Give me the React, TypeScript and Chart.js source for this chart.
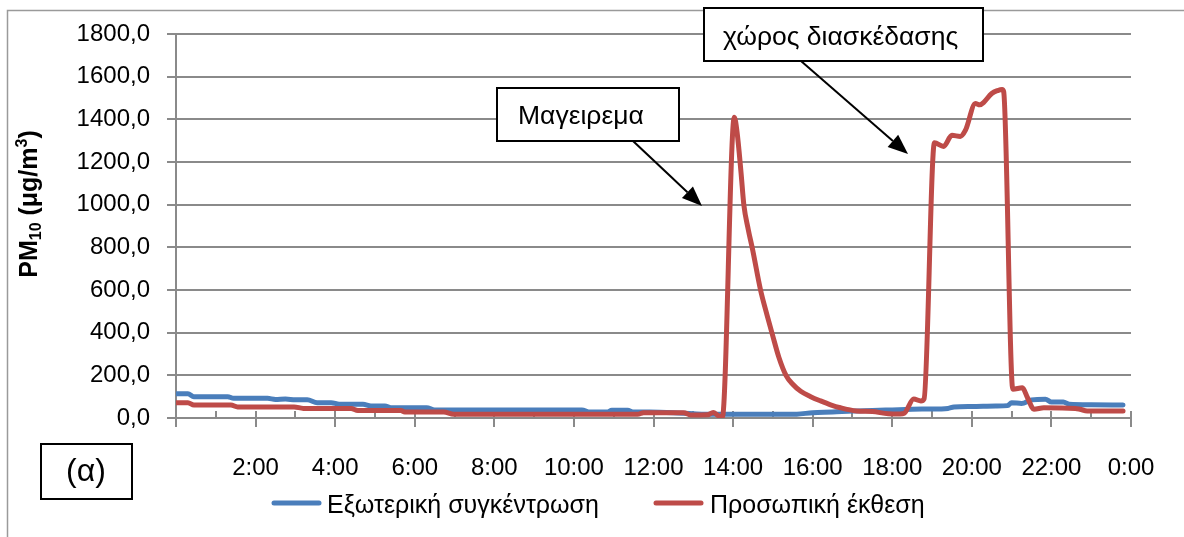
import { useEffect, useRef } from 'react';
import { Chart, registerables } from 'chart.js';

Chart.register(...registerables);

const FONT = '"Liberation Sans", Arial, Helvetica, sans-serif';

// ---- data (time in hours since midnight, PM10 in μg/m3) ----
const seriesNames = ['Εξωτερική συγκέντρωση', 'Προσωπική έκθεση'];
const seriesColors = ['#4a7ebb', '#be4b48'];

const blueTimes = [0, 0.3, 0.45, 1.3, 1.45, 2.3, 2.5, 2.75, 3.0, 3.3, 3.55, 3.9, 4.1, 4.7, 4.9, 5.25, 5.4, 6.3, 6.5, 8.0, 10.2, 10.4, 10.85, 10.95, 11.35, 11.5, 11.9, 12.5, 13.0, 13.5, 14.0, 15.0, 15.6, 16.0, 16.5, 17.0, 17.5, 18.0, 18.5, 18.9, 19.4, 19.55, 20.0, 20.6, 20.9, 21.0, 21.25, 21.5, 21.85, 22.0, 22.3, 22.45, 23.0, 23.8];
const blueValues = [114, 114, 100, 100, 92, 92, 87, 89, 85, 85, 72, 72, 64, 64, 56, 56, 48, 48, 38, 38, 38, 28, 28, 36, 36, 28, 28, 25, 20, 17, 17, 17, 18, 25, 28, 33, 35, 38, 41, 42, 45, 52, 54, 56, 58, 72, 68, 85, 88, 75, 75, 64, 62, 61];

const redTimes = [0, 0.3, 0.45, 1.38, 1.55, 2.97, 3.2, 4.4, 4.57, 5.65, 5.75, 6.73, 6.98, 11.6, 11.75, 12.76, 12.93, 13.36, 13.5, 13.62, 13.73, 14.03, 14.1, 14.2, 14.27, 14.38, 14.49, 14.69, 14.85, 14.99, 15.15, 15.33, 15.5, 15.7, 15.95, 16.2, 16.45, 16.7, 17.1, 17.5, 17.9, 18.2, 18.3, 18.54, 18.72, 18.8, 19.06, 19.29, 19.5, 19.71, 19.84, 20.09, 20.2, 20.3, 20.5, 20.65, 20.76, 20.8, 21.03, 21.27, 21.4, 21.56, 21.81, 22.6, 22.72, 22.9, 23.8];
const redValues = [72, 72, 61, 61, 52, 52, 45, 45, 35, 35, 28, 28, 17, 17, 25, 25, 14, 15, 26, 12, 3, 1410, 1340, 1150, 1000, 885, 790, 600, 485, 390, 285, 200, 158, 125, 100, 80, 62, 48, 33, 30, 20, 19, 22, 89, 80, 90, 1290, 1273, 1325, 1320, 1349, 1474, 1468, 1480, 1521, 1535, 1540, 1530, 135, 142, 95, 41, 48, 45, 41, 33, 33];

const yTickValues = [0, 200, 400, 600, 800, 1000, 1200, 1400, 1600, 1800];
const xTickHours = [0, 1, 2, 3, 4, 5, 6, 7, 8, 9, 10, 11, 12, 13, 14, 15, 16, 17, 18, 19, 20, 21, 22, 23, 24];
const xLabelText: Record<number, string> = { 2: '2:00', 4: '4:00', 6: '6:00', 8: '8:00', 10: '10:00', 12: '12:00', 14: '14:00', 16: '16:00', 18: '18:00', 20: '20:00', 22: '22:00', 24: '0:00' };

const calloutTexts = ['Μαγειρεμα', 'χώρος διασκέδασης'];
const panelLabel = '(α)';

function drawArrow(ctx: CanvasRenderingContext2D, x1: number, y1: number, x2: number, y2: number) {
  const ang = Math.atan2(y2 - y1, x2 - x1);
  const hl = 20;
  const hw = 8;
  const bx = x2 - hl * Math.cos(ang);
  const by = y2 - hl * Math.sin(ang);
  ctx.beginPath();
  ctx.moveTo(x1, y1);
  ctx.lineTo(bx, by);
  ctx.stroke();
  ctx.beginPath();
  ctx.moveTo(x2, y2);
  ctx.lineTo(bx + hw * Math.sin(ang), by - hw * Math.cos(ang));
  ctx.lineTo(bx - hw * Math.sin(ang), by + hw * Math.cos(ang));
  ctx.closePath();
  ctx.fill();
}

function drawCallout(ctx: CanvasRenderingContext2D, text: string, x: number, y: number, w: number, h: number, tx: number, ty: number) {
  ctx.fillStyle = '#ffffff';
  ctx.fillRect(x, y, w, h);
  ctx.strokeStyle = '#000000';
  ctx.lineWidth = 2;
  ctx.strokeRect(x, y, w, h);
  ctx.fillStyle = '#000000';
  ctx.font = `26.5px ${FONT}`;
  ctx.textAlign = 'left';
  ctx.textBaseline = 'alphabetic';
  ctx.fillText(text, tx, ty);
}

const decorPlugin = {
  id: 'decor',
  beforeDraw(chart: any) {
    const ctx: CanvasRenderingContext2D = chart.ctx;
    ctx.save();
    ctx.fillStyle = '#ffffff';
    ctx.fillRect(0, 0, chart.width, chart.height);
    ctx.strokeStyle = '#9a9a9a';
    ctx.lineWidth = 1.5;
    ctx.beginPath();
    ctx.moveTo(7.5, 560);
    ctx.lineTo(7.5, 10.5);
    ctx.lineTo(1200, 10.5);
    ctx.stroke();
    ctx.restore();
  },
  beforeDatasetsDraw(chart: any) {
    const ctx: CanvasRenderingContext2D = chart.ctx;
    const xs = chart.scales.x;
    const bottom = chart.chartArea.bottom;
    ctx.save();
    ctx.strokeStyle = '#8a8a8a';
    ctx.lineWidth = 2;
    xTickHours.forEach((h) => {
      const px = Math.round(xs.getPixelForValue(h));
      ctx.beginPath();
      if (h % 2 === 0) {
        ctx.moveTo(px, bottom - 7);
        ctx.lineTo(px, bottom + 9);
      } else {
        ctx.moveTo(px, bottom - 7);
        ctx.lineTo(px, bottom);
      }
      ctx.stroke();
    });
    ctx.restore();
  },
  afterDraw(chart: any) {
    const ctx: CanvasRenderingContext2D = chart.ctx;
    ctx.save();

    // Y axis title with sub/superscript
    ctx.translate(37, 204);
    ctx.rotate(-Math.PI / 2);
    const big = `bold 25px ${FONT}`;
    const small = `bold 16px ${FONT}`;
    const parts = [
      { t: 'PM', f: big, dy: 0 },
      { t: '10', f: small, dy: 4 },
      { t: ' (μg/m', f: big, dy: 0 },
      { t: '3', f: small, dy: -10 },
      { t: ')', f: big, dy: 0 },
    ];
    let total = 0;
    parts.forEach((p) => { ctx.font = p.f; total += ctx.measureText(p.t).width; });
    let cx = -total / 2;
    ctx.fillStyle = '#000000';
    ctx.textBaseline = 'alphabetic';
    ctx.textAlign = 'left';
    parts.forEach((p) => {
      ctx.font = p.f;
      ctx.fillText(p.t, cx, p.dy);
      cx += ctx.measureText(p.t).width;
    });
    ctx.setTransform(1, 0, 0, 1, 0, 0);

    // Legend
    ctx.lineWidth = 5;
    ctx.lineCap = 'round';
    const legendItems = [
      { lx: 274, rx: 319, tx: 327 },
      { lx: 656, rx: 701, tx: 710 },
    ];
    legendItems.forEach((it, i) => {
      ctx.strokeStyle = seriesColors[i];
      ctx.beginPath();
      ctx.moveTo(it.lx, 503);
      ctx.lineTo(it.rx, 503);
      ctx.stroke();
      ctx.fillStyle = '#000000';
      ctx.font = `25px ${FONT}`;
      ctx.textAlign = 'left';
      ctx.textBaseline = 'alphabetic';
      ctx.fillText(seriesNames[i], it.tx, 513);
    });
    ctx.lineCap = 'butt';

    // Panel label
    ctx.strokeStyle = '#000000';
    ctx.lineWidth = 2;
    ctx.strokeRect(41, 444, 91, 55);
    ctx.font = `32px ${FONT}`;
    ctx.textAlign = 'center';
    ctx.fillText(panelLabel, 86, 481);

    // Callouts with arrows
    ctx.strokeStyle = '#000000';
    ctx.fillStyle = '#000000';
    ctx.lineWidth = 2;
    drawArrow(ctx, 633, 141, 702, 206);
    drawArrow(ctx, 801, 61, 908, 154);
    drawCallout(ctx, calloutTexts[0], 497, 88, 182, 53, 518, 124);
    drawCallout(ctx, calloutTexts[1], 704, 8, 279, 53, 723, 45);

    ctx.restore();
  },
};

export default function App() {
  const canvasRef = useRef<HTMLCanvasElement | null>(null);

  useEffect(() => {
    if (!canvasRef.current) return;
    const chart = new Chart(canvasRef.current, {
      type: 'line',
      data: {
        datasets: [
          {
            label: seriesNames[0],
            data: blueTimes.map((t, i) => ({ x: t, y: blueValues[i] })),
            borderColor: seriesColors[0],
            backgroundColor: seriesColors[0],
            borderWidth: 5,
            pointRadius: 0,
            cubicInterpolationMode: 'monotone',
            borderJoinStyle: 'round',
            borderCapStyle: 'round',
            order: 1,
          },
          {
            label: seriesNames[1],
            data: redTimes.map((t, i) => ({ x: t, y: redValues[i] })),
            borderColor: seriesColors[1],
            backgroundColor: seriesColors[1],
            borderWidth: 5,
            pointRadius: 0,
            cubicInterpolationMode: 'monotone',
            borderJoinStyle: 'round',
            borderCapStyle: 'round',
            order: 0,
          },
        ],
      },
      options: {
        responsive: false,
        animation: false,
        devicePixelRatio: 1,
        layout: { padding: { left: 0, top: 34, right: 53, bottom: 0 } },
        plugins: {
          legend: { display: false },
          tooltip: { enabled: false },
        },
        scales: {
          x: {
            type: 'linear',
            min: 0,
            max: 24,
            afterFit: (s: any) => { s.height = 119; },
            afterBuildTicks: (s: any) => { s.ticks = xTickHours.map((v) => ({ value: v })); },
            grid: { display: false },
            border: { display: true, color: '#8a8a8a', width: 2 },
            ticks: {
              autoSkip: false,
              maxRotation: 0,
              padding: 28,
              color: '#000000',
              font: { family: FONT, size: 24 },
              callback: (v: any) => xLabelText[Number(v)] ?? '',
            },
          },
          y: {
            type: 'linear',
            min: 0,
            max: 1800,
            afterFit: (s: any) => { s.width = 176; },
            afterBuildTicks: (s: any) => { s.ticks = yTickValues.map((v) => ({ value: v })); },
            grid: { color: '#8a8a8a', lineWidth: 2, tickLength: 9, drawTicks: true },
            border: { display: true, color: '#8a8a8a', width: 2 },
            ticks: {
              padding: 17,
              color: '#000000',
              font: { family: FONT, size: 24 },
              callback: (v: any) => Number(v).toFixed(1).replace('.', ','),
            },
          },
        },
      },
      plugins: [decorPlugin],
    } as any);
    return () => chart.destroy();
  }, []);

  return (
    <div style={{ position: 'absolute', left: 0, top: 0, width: 1184, height: 537, background: '#fff' }}>
      <canvas ref={canvasRef} width={1184} height={537} style={{ display: 'block' }} />
    </div>
  );
}
